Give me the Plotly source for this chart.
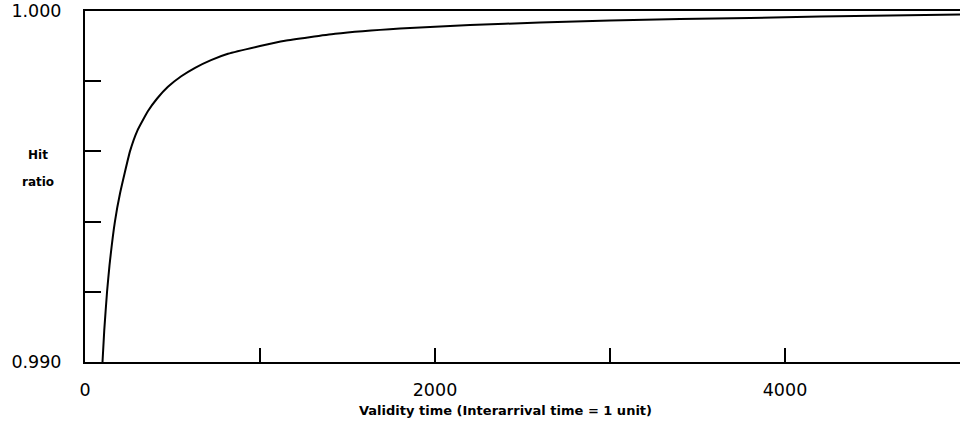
import plotly.graph_objects as go

# Data
validity_time = [100, 110, 126, 140, 171, 200, 257, 300, 360, 411, 474, 550, 629, 720, 817,
                 1000, 1143, 1429, 1800, 2200, 2600, 3000, 3400, 3800, 4200, 4600, 5000]
hit_ratio = [0.99000, 0.99090, 0.99200, 0.99275, 0.99400, 0.99480, 0.99600, 0.99660,
             0.99715, 0.99750, 0.99784, 0.99814, 0.99838, 0.99860, 0.99878, 0.99900,
             0.99915, 0.99935, 0.99950, 0.99960, 0.99967, 0.99973, 0.99977, 0.99980,
             0.99984, 0.99987, 0.99990]

x_tickvals = [0, 1000, 2000, 3000, 4000, 5000]
x_ticktext = ["0", "", "2000", "", "4000", ""]
y_tickvals = [0.990, 0.992, 0.994, 0.996, 0.998, 1.000]
y_ticktext = ["0.990", "", "", "", "", "1.000"]

x_title = "Validity time (Interarrival time = 1 unit)"
y_title_lines = ["Hit", "ratio"]

FONT = "DejaVu Sans, Liberation Sans, Arial, sans-serif"

fig = go.Figure()
fig.add_trace(go.Scatter(x=validity_time, y=hit_ratio, mode="lines",
                         line=dict(color="black", width=2, shape="spline", smoothing=0.4),
                         showlegend=False, hoverinfo="skip"))

L, R, T, B = 85, 0, 11, 59
W, H = 960, 421
pw, ph = W - L - R, H - T - B

def px_x(px):
    return (px - L) / pw

def px_y(py):
    return (H - B - py) / ph

fig.update_layout(
    width=W, height=H,
    margin=dict(l=L, r=R, t=T, b=B),
    paper_bgcolor="white", plot_bgcolor="white",
    font=dict(family=FONT, color="black", size=17),
    xaxis=dict(range=[0, 5000], tickvals=x_tickvals, ticktext=x_ticktext,
               ticks="inside", ticklen=14, tickwidth=1.5, tickcolor="black",
               showline=True, linecolor="black", linewidth=2, mirror=True,
               showgrid=False, zeroline=False, ticklabelstandoff=11,
               tickfont=dict(size=17.5, family=FONT, color="black")),
    yaxis=dict(range=[0.990, 1.000], tickvals=y_tickvals, ticktext=y_ticktext,
               ticks="inside", ticklen=16, tickwidth=1.5, tickcolor="black",
               showline=True, linecolor="black", linewidth=2, mirror=False,
               showgrid=False, zeroline=False, ticklabelstandoff=18,
               tickfont=dict(size=17.5, family=FONT, color="black")),
)

fig.add_annotation(x=px_x(505), y=px_y(410), xref="paper", yref="paper",
                   text="<b>" + x_title + "</b>", showarrow=False,
                   font=dict(size=13, family=FONT, color="black"),
                   xanchor="center", yanchor="middle")
for line_text, py in zip(y_title_lines, [155, 182]):
    fig.add_annotation(x=px_x(38), y=px_y(py), xref="paper", yref="paper",
                       text="<b>" + line_text + "</b>", showarrow=False,
                       font=dict(size=12, family=FONT, color="black"),
                       xanchor="center", yanchor="middle")

fig.write_html("out.html")
